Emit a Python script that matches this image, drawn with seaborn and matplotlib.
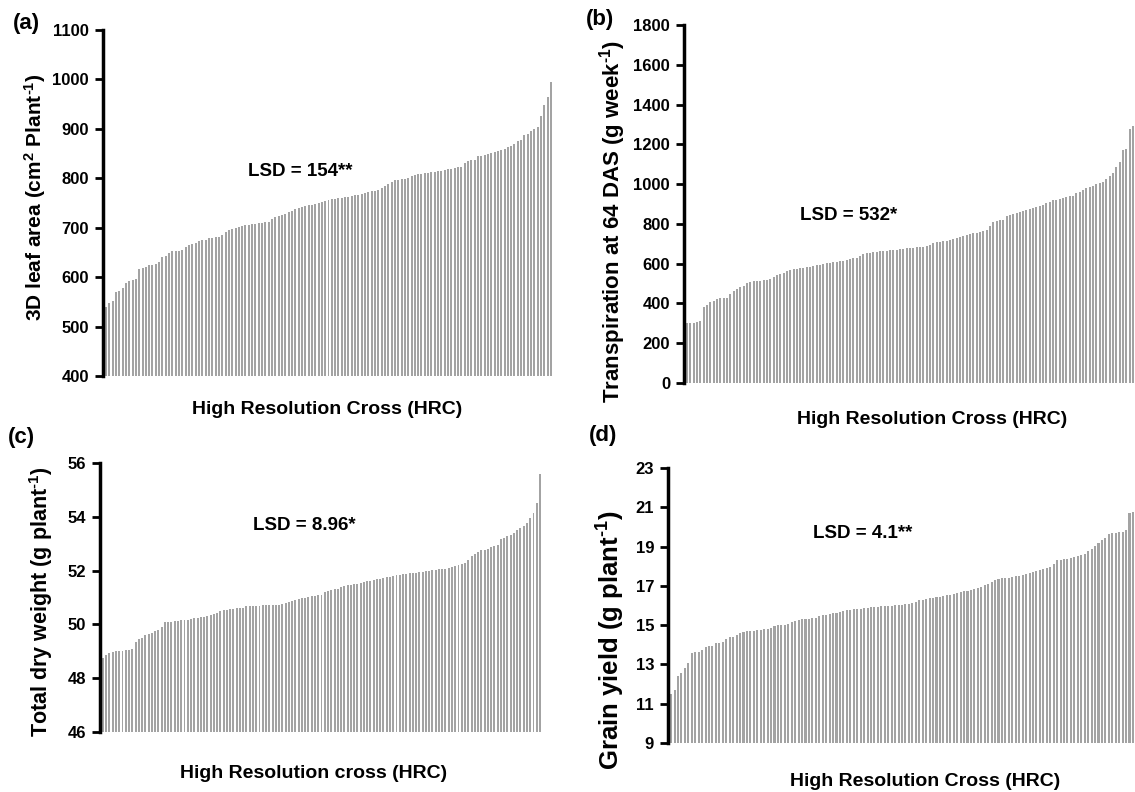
import matplotlib
matplotlib.use("Agg")
import matplotlib.pyplot as plt
import pandas as pd
import seaborn as sns

# HRC lines sorted by trait value, one bar per line
leaf_area = [
    540, 548, 551, 569, 572, 578, 589, 592, 595, 596,
    616, 619, 621, 625, 625, 627, 630, 641, 643, 649,
    652, 652, 653, 655, 660, 665, 668, 670, 673, 675,
    676, 679, 680, 681, 682, 685, 692, 695, 698, 700,
    702, 703, 705, 706, 707, 708, 709, 710, 711, 712,
    718, 721, 724, 726, 728, 731, 734, 737, 740, 741,
    743, 745, 746, 748, 750, 753, 755, 757, 758, 759,
    760, 761, 762, 763, 764, 766, 767, 769, 770, 772,
    774, 775, 777, 781, 785, 789, 793, 796, 797, 798,
    799, 801, 804, 806, 808, 809, 810, 811, 812, 813,
    814, 815, 816, 818, 819, 820, 822, 823, 830, 834,
    836, 838, 845, 846, 847, 849, 851, 854, 856, 858,
    860, 863, 866, 870, 876, 878, 888, 890, 895, 900,
    903, 925, 948, 965, 995,
]

transpiration = [
    300, 300, 302, 305, 312, 380, 392, 405, 412, 420,
    425, 425, 427, 448, 465, 475, 483, 490, 503, 508,
    512, 514, 515, 516, 518, 525, 535, 545, 548, 552,
    565, 568, 572, 575, 578, 580, 583, 585, 588, 592,
    595, 598, 602, 605, 608, 610, 612, 615, 620, 625,
    628, 630, 640, 648, 652, 655, 658, 660, 662, 664,
    665, 667, 669, 671, 673, 675, 677, 678, 680, 682,
    684, 686, 688, 695, 705, 708, 710, 712, 715, 720,
    725, 730, 734, 737, 742, 748, 752, 756, 760, 765,
    770, 790, 812, 816, 818, 822, 838, 845, 850, 856,
    862, 866, 870, 874, 880, 885, 890, 895, 905, 912,
    918, 922, 926, 930, 935, 938, 942, 955, 962, 970,
    980, 986, 992, 1000, 1005, 1013, 1025, 1040, 1056, 1085,
    1113, 1172, 1175, 1277, 1290,
]

dry_weight = [
    48.75, 48.85, 48.95, 48.98, 49.00, 49.00, 49.02, 49.05, 49.06, 49.08,
    49.35, 49.45, 49.50, 49.62, 49.65, 49.67, 49.75, 49.80, 49.90, 50.08,
    50.10, 50.10, 50.12, 50.13, 50.15, 50.16, 50.18, 50.20, 50.22, 50.24,
    50.26, 50.28, 50.30, 50.36, 50.40, 50.42, 50.50, 50.52, 50.55, 50.56,
    50.58, 50.60, 50.62, 50.62, 50.68, 50.69, 50.70, 50.70, 50.70, 50.71,
    50.72, 50.72, 50.72, 50.73, 50.73, 50.74, 50.80, 50.85, 50.88, 50.90,
    50.95, 50.98, 51.00, 51.02, 51.05, 51.06, 51.08, 51.10, 51.20, 51.26,
    51.28, 51.30, 51.32, 51.38, 51.42, 51.45, 51.48, 51.50, 51.52, 51.55,
    51.58, 51.60, 51.62, 51.65, 51.68, 51.70, 51.72, 51.75, 51.77, 51.80,
    51.82, 51.84, 51.86, 51.88, 51.90, 51.90, 51.92, 51.93, 51.95, 51.98,
    52.00, 52.02, 52.04, 52.05, 52.06, 52.07, 52.08, 52.12, 52.18, 52.22,
    52.26, 52.30, 52.40, 52.55, 52.62, 52.70, 52.76, 52.78, 52.82, 52.86,
    52.90, 52.95, 53.18, 53.22, 53.28, 53.32, 53.38, 53.50, 53.60, 53.65,
    53.76, 53.94, 54.13, 54.50, 55.60,
]

grain_yield = [
    11.52, 11.72, 12.40, 12.58, 12.82, 13.08, 13.60, 13.62, 13.65, 13.72,
    13.90, 13.95, 13.96, 14.10, 14.10, 14.12, 14.32, 14.38, 14.42, 14.50,
    14.58, 14.66, 14.70, 14.70, 14.72, 14.74, 14.75, 14.80, 14.82, 14.86,
    14.96, 15.00, 15.00, 15.02, 15.05, 15.17, 15.22, 15.28, 15.30, 15.30,
    15.32, 15.34, 15.36, 15.45, 15.50, 15.54, 15.56, 15.60, 15.62, 15.65,
    15.70, 15.75, 15.78, 15.80, 15.81, 15.84, 15.86, 15.88, 15.90, 15.92,
    15.93, 15.95, 15.96, 15.98, 16.00, 16.02, 16.03, 16.05, 16.07, 16.10,
    16.15, 16.20, 16.27, 16.30, 16.33, 16.36, 16.39, 16.42, 16.44, 16.48,
    16.52, 16.56, 16.60, 16.64, 16.68, 16.72, 16.76, 16.80, 16.84, 16.87,
    16.95, 17.05, 17.12, 17.18, 17.30, 17.36, 17.38, 17.40, 17.42, 17.45,
    17.48, 17.50, 17.55, 17.60, 17.66, 17.71, 17.76, 17.82, 17.88, 17.92,
    17.97, 18.10, 18.31, 18.32, 18.35, 18.38, 18.40, 18.45, 18.50, 18.55,
    18.60, 18.75, 18.90, 19.05, 19.20, 19.33, 19.45, 19.64, 19.68, 19.70,
    19.72, 19.75, 19.84, 20.69, 20.75,
]

panel_labels = ["(a)", "(b)", "(c)", "(d)"]
lsd_labels = ["LSD = 154**", "LSD = 532*", "LSD = 8.96*", "LSD = 4.1**"]
y_labels = [
    "3D leaf area (cm$^{2}$ Plant$^{\\text{-}1}$)",
    "Transpiration at 64 DAS (g week$^{\\text{-}1}$)",
    "Total dry weight (g plant$^{\\text{-}1}$)",
    "Grain yield (g plant$^{\\text{-}1}$)",
]
x_labels = [
    "High Resolution Cross (HRC)",
    "High Resolution Cross (HRC)",
    "High Resolution cross (HRC)",
    "High Resolution Cross (HRC)",
]

BAR_COLOR = "#a3a3a3"
W, H = 1135, 792

sns.set_theme(style="white")
plt.rcParams["font.family"] = ["Liberation Sans", "DejaVu Sans"]
plt.rcParams["font.weight"] = "bold"
plt.rcParams["text.color"] = "black"
plt.rcParams["ytick.color"] = "black"
plt.rcParams["mathtext.fontset"] = "custom"
plt.rcParams["mathtext.bf"] = "Liberation Sans:bold"
plt.rcParams["mathtext.rm"] = "Liberation Sans:bold"
plt.rcParams["mathtext.default"] = "bf"


def px(x, y):
    # pixel position in the 1135x792 canvas -> figure fraction
    return x / W, 1 - y / H


def rect(left, top, right, bottom):
    return [left / W, 1 - bottom / H, (right - left) / W, (bottom - top) / H]


panels = [
    dict(values=leaf_area, box=(103, 30, 553, 376), ylim=(400, 1100), step=100,
         tag=(26, 24), lsd=(300, 171), xl=(327, 410), yl=(35, 197), yl_size=15),
    dict(values=transpiration, box=(684, 25, 1135, 383), ylim=(0, 1800), step=200,
         tag=(600, 19), lsd=(849, 215), xl=(932, 420), yl=(613, 222), yl_size=16),
    dict(values=dry_weight, box=(100, 463, 542, 732), ylim=(46, 56), step=2,
         tag=(21, 437), lsd=(304, 526), xl=(314, 773), yl=(41, 602), yl_size=15.5),
    dict(values=grain_yield, box=(668, 468, 1135, 743), ylim=(9, 23), step=2,
         tag=(603, 436), lsd=(863, 533), xl=(925, 781), yl=(611, 640), yl_size=18.5),
]

fig = plt.figure(figsize=(W / 100, H / 100), dpi=100)

for i, p in enumerate(panels):
    ax = fig.add_axes(rect(*p["box"]))
    df = pd.DataFrame({"line": range(len(p["values"])), "value": p["values"]})
    sns.barplot(data=df, x="line", y="value", color=BAR_COLOR, saturation=1,
                width=0.6, linewidth=0, errorbar=None, ax=ax)
    lo, hi = p["ylim"]
    ax.set_ylim(lo, hi)
    ax.set_xlim(-0.9, len(p["values"]) - 0.4)
    ax.set_yticks(range(lo, hi + 1, p["step"]))
    ax.set_xticks([])
    ax.set_xlabel("")
    ax.set_ylabel("")
    for side in ["top", "right", "bottom"]:
        ax.spines[side].set_visible(False)
    ax.spines["left"].set_color("black")
    ax.spines["left"].set_linewidth(2.5)
    ax.tick_params(axis="y", left=True, direction="out", length=6, width=2,
                   color="black", labelcolor="black", labelsize=12, pad=4)
    for t in ax.get_yticklabels():
        t.set_fontweight("bold")

    fig.text(*px(*p["tag"]), panel_labels[i], ha="center", va="center",
             fontsize=16, fontweight="bold")
    fig.text(*px(*p["lsd"]), lsd_labels[i], ha="center", va="center",
             fontsize=13.5, fontweight="bold")
    fig.text(*px(*p["xl"]), x_labels[i], ha="center", va="center",
             fontsize=14, fontweight="bold")
    fig.text(*px(*p["yl"]), y_labels[i], ha="center", va="center", rotation=90,
             fontsize=p["yl_size"], fontweight="bold")

fig.savefig("out.png", dpi=100)
